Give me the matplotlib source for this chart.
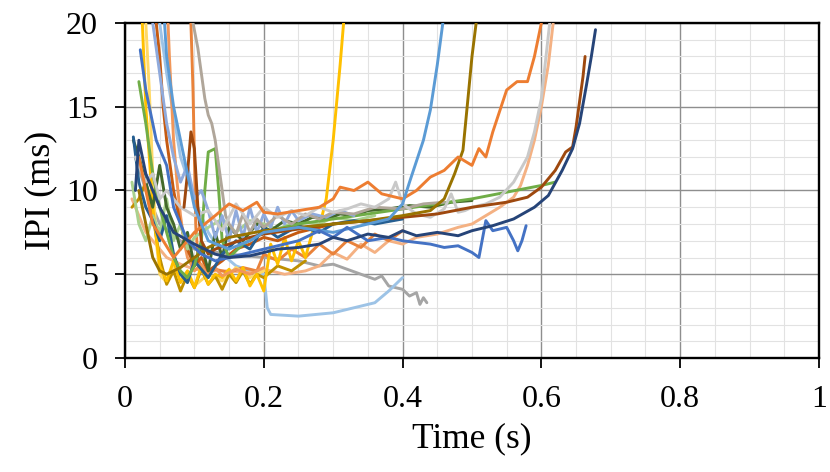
import matplotlib
matplotlib.use("Agg")
import matplotlib.pyplot as plt
from matplotlib.ticker import MultipleLocator

plt.rcParams['font.family'] = ['Liberation Serif', 'DejaVu Serif']

# ---- data (time in s, IPI in ms) ----
t_s01 = [0.025,0.03,0.04,0.05,0.06,0.07,0.08,0.09,0.10,0.11,0.12,0.13,0.14,0.15,0.16,0.17,0.18,0.19,0.20,0.21,0.22,0.23,0.24,0.25,0.26,0.27,0.28,0.29,0.30,0.31,0.315]
y_s01 = [20,15,9,5.5,4.6,5.8,4.5,5.2,4.2,5.5,4.4,5.0,4.8,5.3,4.6,5.4,4.3,5.0,4.0,6.8,5.6,7.2,5.8,7.0,6.0,7.5,7.8,9.5,13,17.5,20]

t_s02 = [0.057,0.06,0.07,0.08,0.09,0.10,0.12,0.15,0.18,0.20,0.25,0.30,0.35,0.38,0.40,0.41,0.43,0.44,0.45,0.458]
y_s02 = [20,18,15,13,11,9,7,6.5,7.0,7.5,7.8,7.5,8.0,8.3,9.2,10.5,13,14.8,17.5,20]

t_s03 = [0.02,0.03,0.04,0.05,0.06,0.08,0.10,0.12,0.15,0.20,0.25,0.30,0.35,0.40,0.44,0.46,0.475,0.487,0.494,0.50,0.506]
y_s03 = [10,8,6,5.2,5.0,5.4,6.0,6.6,7.2,7.6,7.8,8.0,8.2,8.5,8.8,9.5,11,12.4,15.4,18,20]

t_s04 = [0.02,0.04,0.07,0.10,0.13,0.15,0.17,0.19,0.20,0.22,0.25,0.28,0.30,0.31,0.33,0.35,0.37,0.40,0.42,0.44,0.46,0.48,0.50,0.51,0.52,0.53,0.55,0.565,0.58,0.59,0.60]
y_s04 = [12,8,6,7.5,8.5,9.2,8.8,9.3,8.7,8.6,8.8,9.0,9.5,10.2,10.0,10.5,9.8,9.5,10.0,10.8,11.2,12.0,11.5,12.5,12.0,13.5,16.0,16.5,16.5,18,20]

t_s05 = [0.01,0.02,0.03,0.04,0.05,0.06,0.08,0.10,0.12,0.15,0.18,0.20,0.23,0.26,0.28,0.30,0.32,0.34,0.36,0.38,0.40,0.42,0.45,0.48,0.50,0.52,0.54,0.56,0.57,0.58,0.59,0.60,0.61,0.617]
y_s05 = [9.5,8.5,7.5,7.0,6.5,6.0,5.6,5.3,5.2,5.2,5.1,5.3,5.0,5.2,5.5,6.3,5.9,6.8,6.3,7.0,6.8,7.2,7.4,7.8,8.0,8.5,9.0,9.6,10.3,11.5,13.0,15.0,17.5,20]

t_s06 = [0.015,0.02,0.03,0.04,0.05,0.06,0.08,0.10,0.12,0.14,0.16,0.18,0.20,0.22,0.24,0.26,0.28,0.30,0.32,0.34,0.36,0.38,0.39,0.40,0.42,0.44,0.46,0.47,0.48,0.49,0.50,0.52,0.54,0.56,0.58,0.59,0.60,0.612]
y_s06 = [12,11.5,10.5,11,9.5,10,9,8.5,8.8,7.6,9.2,8.0,9.0,8.4,8.8,8.5,9.0,8.7,8.9,9.2,9.0,9.5,10.5,9.2,8.6,8.4,8.9,9.8,8.7,8.8,9.0,9.2,9.6,10.5,12.0,13.5,15.5,20]

t_s07 = [0.085,0.09,0.095,0.10,0.105,0.11,0.12,0.13,0.15,0.18,0.20,0.25,0.30,0.35,0.40,0.45,0.50,0.55,0.58,0.60,0.62,0.635,0.645,0.65,0.655,0.66,0.663]
y_s07 = [9,11,13.5,12.5,9,7,6.2,6.5,6.8,7.2,7.4,7.7,8.0,8.2,8.4,8.6,9.0,9.3,9.6,10.2,11.2,12.3,12.6,13.8,15.3,16.8,18.0]

t_s08 = [0.015,0.02,0.03,0.05,0.07,0.10,0.13,0.15,0.18,0.20,0.22,0.25,0.28,0.30,0.32,0.35,0.38,0.40,0.42,0.45,0.48,0.50,0.53,0.56,0.59,0.61,0.63,0.645,0.655,0.665,0.672,0.678]
y_s08 = [10,13,11,9,7.5,6.8,6.2,6.0,6.1,6.3,6.5,6.6,6.8,7.2,7.0,7.4,7.2,7.6,7.3,7.5,7.3,7.6,7.9,8.3,9.0,9.7,11.2,12.5,14,16.3,18,19.6]

t_s09 = [0.022,0.03,0.045,0.06,0.07,0.09,0.11,0.13,0.15,0.20,0.25,0.28,0.30,0.32,0.35,0.38,0.40,0.42,0.44,0.46,0.48,0.50,0.51,0.52,0.53,0.55,0.56,0.566,0.572,0.578]
y_s09 = [18.4,16,13,11.5,9,7,6.2,5.8,6.0,6.5,7.0,7.6,7.2,7.8,7.0,7.2,7.0,6.9,6.8,6.6,6.7,6.3,6.0,8.2,7.6,7.8,7.0,6.4,7.0,7.9]

t_s10 = [0.05,0.06,0.08,0.10,0.12,0.14,0.16,0.18,0.20,0.205,0.21,0.25,0.30,0.33,0.36,0.38,0.40]
y_s10 = [20,17,12,9.5,7.5,6.2,5.5,5.2,5.0,3.0,2.6,2.5,2.7,3.0,3.3,4.0,4.8]

t_s11 = [0.015,0.03,0.05,0.08,0.10,0.15,0.20,0.25,0.28,0.30,0.32,0.34,0.36,0.37,0.38,0.40,0.41,0.42,0.425,0.43,0.435]
y_s11 = [12,10,8,7,6.5,6.2,6.0,5.8,5.5,5.6,5.3,5.0,4.7,4.9,4.3,4.1,3.7,3.9,3.2,3.6,3.3]

t_s12 = [0.098,0.105,0.11,0.115,0.12,0.125,0.13,0.135,0.14,0.145,0.15,0.16,0.17,0.18,0.19,0.20,0.22,0.24,0.26,0.28,0.30,0.33,0.36,0.40,0.43,0.46]
y_s12 = [20,18.5,17,15.5,14.5,14,13,11.5,10,8.5,8.0,7.4,8.6,7.5,8.3,7.8,8.5,8.0,8.6,8.3,8.7,8.6,9.0,8.9,9.2,9.3]

t_s13 = [0.02,0.03,0.04,0.05,0.06,0.07,0.08,0.09,0.10,0.11,0.115,0.12,0.13,0.135,0.14,0.15,0.17,0.20,0.25,0.30,0.35,0.40,0.45,0.50,0.55,0.60,0.62]
y_s13 = [16.5,14,11,9,7.5,6,5.2,4.8,5.5,7,10,12.3,12.5,10,7,6,6.8,7.5,8.0,8.3,8.6,8.9,9.2,9.5,9.9,10.3,10.5]

t_s14 = [0.095,0.098,0.10,0.102,0.105,0.11,0.12,0.13,0.15,0.17,0.19,0.20,0.22,0.24,0.26,0.28,0.30,0.32,0.34,0.36,0.38,0.40]
y_s14 = [20,16,12,8,6,5.4,5.0,5.3,5.1,5.4,5.2,6.2,5.8,6.5,6.0,6.8,6.2,7.0,6.6,7.4,7.0,7.6]

t_s15 = [0.012,0.02,0.03,0.04,0.05,0.06,0.07,0.08,0.09,0.10,0.11,0.12,0.13,0.14,0.15,0.17,0.19,0.21,0.23,0.25,0.27,0.29,0.31,0.33,0.35,0.38,0.41,0.44,0.47,0.50]
y_s15 = [13,12,10.5,9,11.5,9,8,6.5,7.5,5.5,6.8,5.2,7.5,6.0,7.8,7.0,8.0,7.6,8.2,8.0,8.4,8.3,8.6,8.5,8.8,8.9,9.1,9.0,9.3,9.4]

t_s16 = [0.012,0.02,0.03,0.04,0.05,0.06,0.07,0.08,0.09,0.10,0.12,0.14,0.16,0.18,0.20,0.22,0.25,0.28,0.30,0.33,0.36,0.40]
y_s16 = [13.2,10.5,9,8.2,7,8.5,6.2,5,4.5,5.8,4.8,6.2,7.0,6.5,7.8,7.2,7.9,7.5,8.0,8.2,8.0,8.3]

t_s17 = [0.03,0.035,0.04,0.045,0.05,0.06,0.07,0.08,0.09,0.10,0.12,0.14,0.16,0.18,0.20]
y_s17 = [20,16,11,7,5,4.5,5.5,4.6,5.2,4.3,5.0,4.6,5.4,4.8,5.2]

t_s18 = [0.01,0.02,0.03,0.04,0.05,0.06,0.07,0.08,0.09,0.10,0.11,0.12,0.13,0.14,0.15,0.16,0.17,0.18,0.19,0.20,0.22,0.24,0.26]
y_s18 = [9,9.5,10.5,8.5,6,4.4,5.2,4.0,5.0,4.2,5.3,4.4,4.9,4.1,5.0,4.5,5.2,4.4,5.0,4.8,5.5,5.2,5.8]

t_s19 = [0.01,0.02,0.03,0.04,0.05,0.06,0.07,0.08,0.09,0.10,0.12,0.14,0.16,0.18,0.20,0.22,0.25,0.28,0.30,0.33,0.36]
y_s19 = [10.5,8,7,8.5,7.5,9.5,7,8,6.5,7.2,7.8,8.3,7.5,8.2,8.0,7.7,8.2,8.0,8.4,8.2,8.5]

t_s20 = [0.045,0.05,0.055,0.06,0.065,0.07,0.08,0.09,0.10,0.11,0.12,0.14,0.16,0.18,0.20,0.22,0.25,0.28,0.30]
y_s20 = [20,18,15,13,11.5,10,8,6.5,5.5,6.0,5.2,5.8,6.5,6.8,7.2,7.0,7.5,7.8,8.0]

t_s21 = [0.04,0.05,0.06,0.07,0.08,0.09,0.10,0.11,0.12,0.13,0.14,0.15,0.16,0.17,0.18,0.19,0.20,0.21,0.22,0.23,0.24,0.25,0.27,0.29,0.31,0.33]
y_s21 = [20,17,14,12,10.5,11.5,9.5,10,8.8,7.2,8.5,7.0,8.8,7.2,9.0,7.5,8.6,7.8,9.0,8.0,8.8,8.2,8.6,8.4,8.8,8.5]

t_s22 = [0.062,0.064,0.067,0.07,0.075,0.08,0.085,0.09,0.10,0.11,0.12,0.13,0.14,0.16,0.18,0.20]
y_s22 = [20,18,15.5,13,10.5,8.5,7,6,5.2,5.6,5.0,5.4,4.9,5.3,5.0,5.4]

series_t = [t_s01,t_s02,t_s03,t_s04,t_s05,t_s06,t_s07,t_s08,t_s09,t_s10,t_s11,
            t_s12,t_s13,t_s14,t_s15,t_s16,t_s17,t_s18,t_s19,t_s20,t_s21,t_s22]
series_y = [y_s01,y_s02,y_s03,y_s04,y_s05,y_s06,y_s07,y_s08,y_s09,y_s10,y_s11,
            y_s12,y_s13,y_s14,y_s15,y_s16,y_s17,y_s18,y_s19,y_s20,y_s21,y_s22]
series_c = ['#FFC000','#5B9BD5','#997300','#ED7D31','#F4B183','#C9C9C9','#9E480E',
            '#264478','#4472C4','#9DC3E6','#A5A5A5','#B0A69A','#70AD47','#E9823A',
            '#43682B','#255E91','#FFD966','#BF9000','#A9D18E','#C55A11','#8FAADC','#F1975A']

x_ticks = [0, 0.2, 0.4, 0.6, 0.8, 1]
x_ticklabels = ['0', '0.2', '0.4', '0.6', '0.8', '1']
y_ticks = [0, 5, 10, 15, 20]

fig = plt.figure(figsize=(8.30, 4.72), dpi=100)
ax = fig.add_axes([0.1506, 0.2415, 0.8361, 0.7098])

order = [10, 9, 4, 13, 16, 17, 0, 21, 19, 18, 14, 15, 12, 20, 11, 5, 6, 2, 3, 1, 8, 7]
for i in order:
    ax.plot(series_t[i], series_y[i], color=series_c[i], lw=2.1,
            solid_joinstyle='round', solid_capstyle='round', zorder=3)

ax.set_xlim(0, 1)
ax.set_ylim(0, 20)
ax.set_xticks(x_ticks)
ax.set_xticklabels(x_ticklabels)
ax.set_yticks(y_ticks)
ax.xaxis.set_minor_locator(MultipleLocator(0.05))
ax.yaxis.set_minor_locator(MultipleLocator(1))
ax.grid(which='major', color='#8E8E8E', lw=1.0, zorder=1)
ax.grid(which='minor', color='#E2E2E2', lw=0.8, zorder=0)
ax.set_axisbelow(True)
ax.tick_params(which='major', direction='out', length=7.5, width=1.3, labelsize=23)
ax.tick_params(axis='x', which='major', pad=12)
ax.tick_params(axis='y', which='major', pad=12)
ax.tick_params(which='minor', length=0)
for s in ax.spines.values():
    s.set_color('black')
    s.set_linewidth(1.7)
ax.set_xlabel('Time (s)', fontsize=25.5, labelpad=6)
ax.set_ylabel('IPI (ms)', fontsize=26, labelpad=6)

fig.savefig('out.png', dpi=100)
